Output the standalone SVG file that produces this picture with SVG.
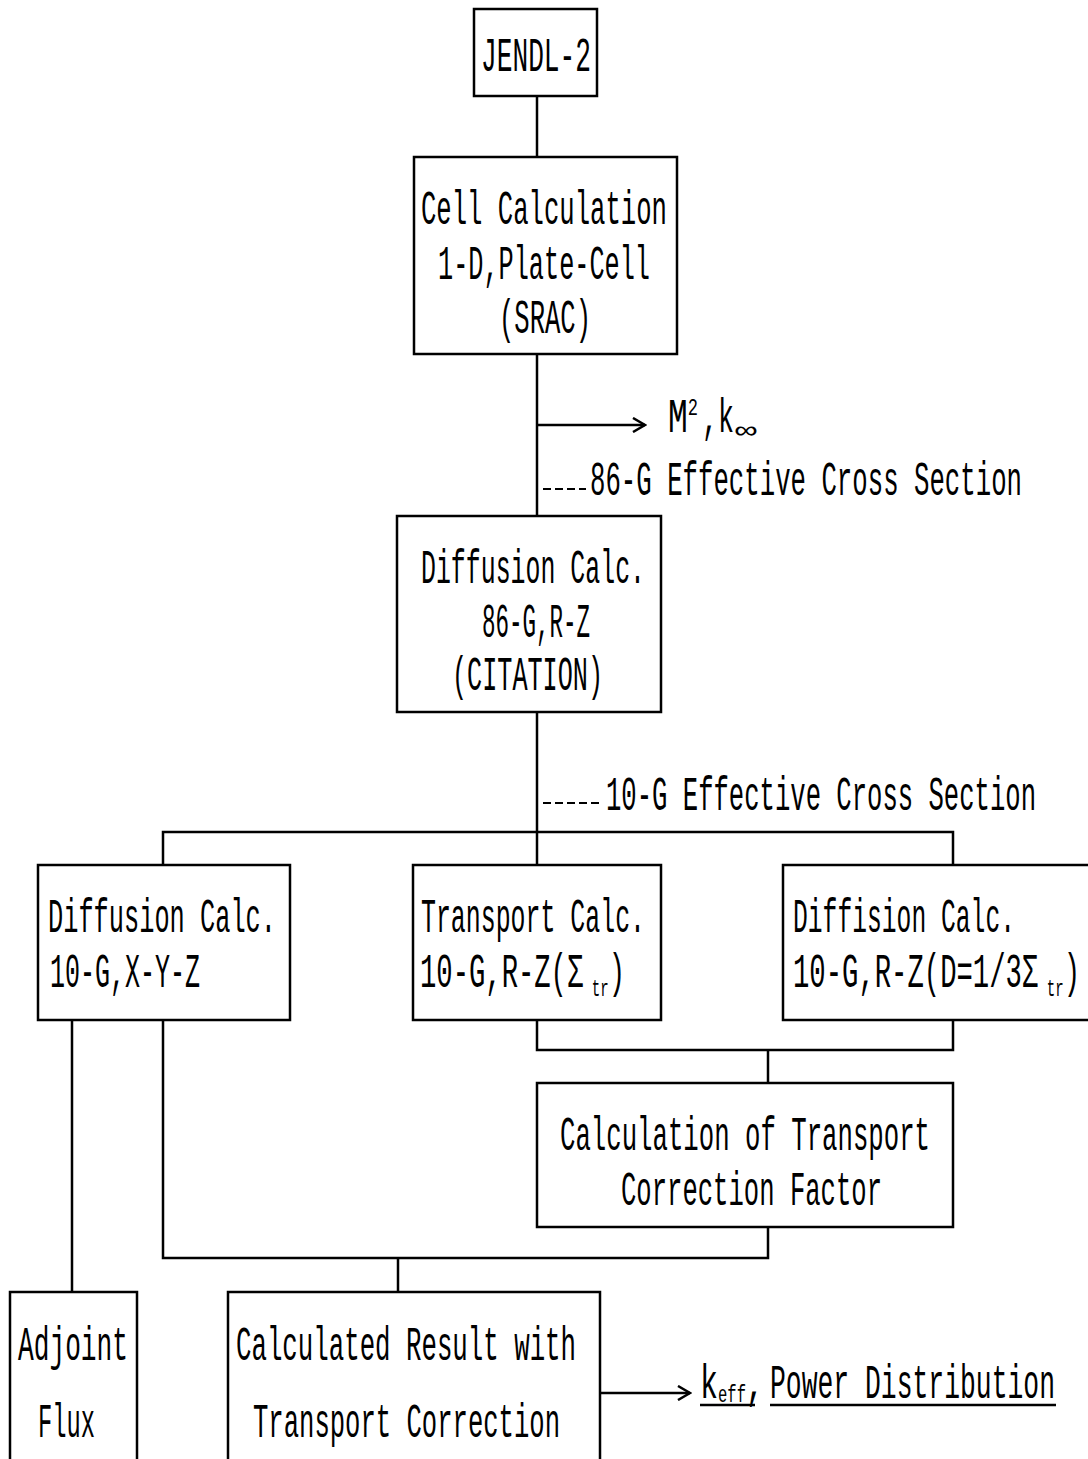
<svg xmlns="http://www.w3.org/2000/svg" width="1088" height="1459" viewBox="0 0 1088 1459">
<defs>
<style>
.box{fill:#fff;stroke:#000;stroke-width:2.5}
.ln{fill:none;stroke:#000;stroke-width:2.5}
.t{font-family:"Liberation Mono","Courier New",monospace;font-size:27px;fill:#000}
.s{font-size:14px}
.dash{fill:none;stroke:#000;stroke-width:2;stroke-dasharray:8,4}
</style>
<marker id="arr" markerWidth="16" markerHeight="16" refX="14" refY="8" orient="auto" markerUnits="userSpaceOnUse">
<path d="M2,1 L14,8 L2,15" fill="none" stroke="#000" stroke-width="2.5"/>
</marker>
</defs>
<rect width="1088" height="1459" fill="#fff"/>
<g id="connectors">
<path class="ln" d="M537,96 V157"/>
<path class="ln" d="M537,354 V516"/>
<path class="ln" d="M537,425 H645" marker-end="url(#arr)"/>
<path class="dash" d="M543,489 H586"/>
<path class="ln" d="M537,712 V865"/>
<path class="dash" d="M543,803 H601"/>
<path class="ln" d="M163,865 V832 H953 V865"/>
<path class="ln" d="M537,1020 V1050 H953 V1020"/>
<path class="ln" d="M768,1050 V1083"/>
<path class="ln" d="M768,1227 V1258 H163 V1020"/>
<path class="ln" d="M398,1258 V1292"/>
<path class="ln" d="M72,1020 V1292"/>
<path class="ln" d="M600,1393 H690" marker-end="url(#arr)"/>
</g>
<g id="n-jendl">
<rect class="box" x="474" y="9" width="123" height="87"/>
<text class="t" transform="translate(481,71) scale(1,1.75)" textLength="110" lengthAdjust="spacingAndGlyphs">JENDL-2</text>
</g>
<g id="n-cell">
<rect class="box" x="414" y="157" width="263" height="197"/>
<text class="t" transform="translate(421,224) scale(1,1.75)" textLength="246" lengthAdjust="spacingAndGlyphs">Cell Calculation</text>
<text class="t" transform="translate(438,279) scale(1,1.75)" textLength="212" lengthAdjust="spacingAndGlyphs">1-D,Plate-Cell</text>
<text class="t" transform="translate(499,333) scale(1,1.75)" textLength="92" lengthAdjust="spacingAndGlyphs">(SRAC)</text>
</g>
<g id="n-m2">
<text class="t" transform="translate(668,432) scale(1,1.75)" textLength="30" lengthAdjust="spacingAndGlyphs">M<tspan class="s" dy="-10">2</tspan></text>
<text class="t" transform="translate(702,432) scale(1,1.75)" textLength="32" lengthAdjust="spacingAndGlyphs">,k</text>
<text class="t" x="735" y="438" style="font-size:24px" textLength="22" lengthAdjust="spacingAndGlyphs">∞</text>
</g>
<g id="n-86g-label">
<text class="t" transform="translate(590,495) scale(1,1.75)" textLength="432" lengthAdjust="spacingAndGlyphs">86-G Effective Cross Section</text>
</g>
<g id="n-diff86">
<rect class="box" x="397" y="516" width="264" height="196"/>
<text class="t" transform="translate(421,583) scale(1,1.75)" textLength="224" lengthAdjust="spacingAndGlyphs">Diffusion Calc.</text>
<text class="t" transform="translate(482,637) scale(1,1.75)" textLength="108" lengthAdjust="spacingAndGlyphs">86-G,R-Z</text>
<text class="t" transform="translate(452,690) scale(1,1.75)" textLength="151" lengthAdjust="spacingAndGlyphs">(CITATION)</text>
</g>
<g id="n-10g-label">
<text class="t" transform="translate(606,810) scale(1,1.75)" textLength="430" lengthAdjust="spacingAndGlyphs">10-G Effective Cross Section</text>
</g>
<g id="n-diffxyz">
<rect class="box" x="38" y="865" width="252" height="155"/>
<text class="t" transform="translate(48,932) scale(1,1.75)" textLength="228" lengthAdjust="spacingAndGlyphs">Diffusion Calc.</text>
<text class="t" transform="translate(50,987) scale(1,1.75)" textLength="150" lengthAdjust="spacingAndGlyphs">10-G,X-Y-Z</text>
</g>
<g id="n-transport">
<rect class="box" x="413" y="865" width="248" height="155"/>
<text class="t" transform="translate(421,932) scale(1,1.75)" textLength="224" lengthAdjust="spacingAndGlyphs">Transport Calc.</text>
<text class="t" transform="translate(420,987) scale(1,1.75)" textLength="205" lengthAdjust="spacingAndGlyphs">10-G,R-Z(Σ<tspan class="s" dy="5"> tr</tspan><tspan dy="-5">)</tspan></text>
</g>
<g id="n-diffrz">
<rect class="box" x="783" y="865" width="310" height="155"/>
<text class="t" transform="translate(793,932) scale(1,1.75)" textLength="222" lengthAdjust="spacingAndGlyphs">Diffision Calc.</text>
<text class="t" transform="translate(793,987) scale(1,1.75)" textLength="287" lengthAdjust="spacingAndGlyphs">10-G,R-Z(D=1/3Σ<tspan class="s" dy="5"> tr</tspan><tspan dy="-5">)</tspan></text>
</g>
<g id="n-tcf">
<rect class="box" x="537" y="1083" width="416" height="144"/>
<text class="t" transform="translate(560,1150) scale(1,1.75)" textLength="370" lengthAdjust="spacingAndGlyphs">Calculation of Transport</text>
<text class="t" transform="translate(621,1205) scale(1,1.75)" textLength="261" lengthAdjust="spacingAndGlyphs">Correction Factor</text>
</g>
<g id="n-adjoint">
<rect class="box" x="10" y="1292" width="127" height="180"/>
<text class="t" transform="translate(18,1360) scale(1,1.75)" textLength="110" lengthAdjust="spacingAndGlyphs">Adjoint</text>
<text class="t" transform="translate(38,1437) scale(1,1.75)" textLength="57" lengthAdjust="spacingAndGlyphs">Flux</text>
</g>
<g id="n-result">
<rect class="box" x="228" y="1292" width="372" height="180"/>
<text class="t" transform="translate(236,1360) scale(1,1.75)" textLength="340" lengthAdjust="spacingAndGlyphs">Calculated Result with</text>
<text class="t" transform="translate(253,1437) scale(1,1.75)" textLength="307" lengthAdjust="spacingAndGlyphs">Transport Correction</text>
</g>
<g id="n-keff">
<text class="t" transform="translate(700,1398) scale(1,1.75)" textLength="64" lengthAdjust="spacingAndGlyphs">k<tspan class="s" dy="2">eff</tspan><tspan dy="-2">,</tspan></text>
<text class="t" transform="translate(770,1398) scale(1,1.75)" textLength="285" lengthAdjust="spacingAndGlyphs">Power Distribution</text>
<path class="ln" d="M700,1405 H755 M770,1405 H1056" stroke-width="2"/>
</g>
</svg>
